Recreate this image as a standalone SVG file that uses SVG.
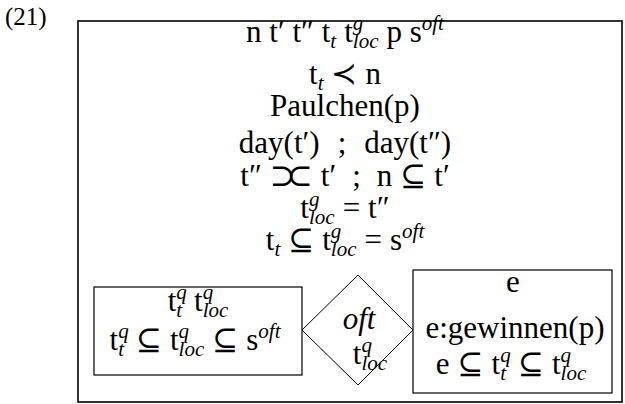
<svg xmlns="http://www.w3.org/2000/svg" width="625" height="404" viewBox="0 0 625 404">
<style>
text { font-family: "Liberation Serif", "DejaVu Serif", serif; fill: #000; }
.m { font-size: 31px; text-anchor: middle; }
.s { font-size: 21px; font-style: italic; }
.it { font-style: italic; }
.box { fill: #fff; stroke: #000; }
</style>
<rect width="625" height="404" fill="#fff"/>
<text id="label" x="5" y="25" style="font-size:25px">(21)</text>
<g id="outer">
  <rect class="box" x="78" y="21" width="544" height="381" stroke-width="1.6"/>
  <text class="m" x="345" y="42">n t′ t″ t<tspan class="s" dy="6">t</tspan><tspan dy="-6" dx="8">t</tspan><tspan class="s" dy="-12">g</tspan><tspan class="s" dx="-10.5" dy="18">loc</tspan><tspan dy="-6" dx="8">p s</tspan><tspan class="s" dy="-12">oft</tspan></text>
  <text class="m" x="345" y="84">t<tspan class="s" dy="6">t</tspan><tspan dy="-6" dx="8">≺</tspan><tspan dx="8">n</tspan></text>
  <text class="m" x="345" y="116">Paulchen(p)</text>
  <text class="m" x="345" y="153">day(t′)<tspan dx="18">;</tspan><tspan dx="18">day(t″)</tspan></text>
  <text class="m" x="345" y="186">t″<tspan dx="8">⊃</tspan><tspan dx="-9">⊂</tspan><tspan dx="8">t′</tspan><tspan dx="16">;</tspan><tspan dx="16">n</tspan><tspan dx="8">⊆</tspan><tspan dx="8">t′</tspan></text>
  <text class="m" x="345" y="218">t<tspan class="s" dy="-12">g</tspan><tspan class="s" dx="-10.5" dy="18">loc</tspan><tspan dy="-6" dx="8">=</tspan><tspan dx="8">t″</tspan></text>
  <text class="m" x="345" y="250">t<tspan class="s" dy="6">t</tspan><tspan dy="-6" dx="8">⊆</tspan><tspan dx="8">t</tspan><tspan class="s" dy="-12">g</tspan><tspan class="s" dx="-10.5" dy="18">loc</tspan><tspan dy="-6" dx="8">=</tspan><tspan dx="8">s</tspan><tspan class="s" dy="-12">oft</tspan></text>
</g>
<g id="left-box">
  <rect class="box" x="94" y="287" width="208" height="88" stroke-width="1.2"/>
  <text class="m" x="198" y="311">t<tspan class="s" dy="-12">q</tspan><tspan class="s" dx="-10.5" dy="18">t</tspan><tspan dy="-6" dx="12">t</tspan><tspan class="s" dy="-12">q</tspan><tspan class="s" dx="-10.5" dy="18">loc</tspan></text>
  <text class="m" x="195" y="350">t<tspan class="s" dy="-12">q</tspan><tspan class="s" dx="-10.5" dy="18">t</tspan><tspan dy="-6" dx="12">⊆</tspan><tspan dx="8">t</tspan><tspan class="s" dy="-12">q</tspan><tspan class="s" dx="-10.5" dy="18">loc</tspan><tspan dy="-6" dx="8">⊆</tspan><tspan dx="8">s</tspan><tspan class="s" dy="-12">oft</tspan></text>
</g>
<g id="diamond">
  <polygon class="box" points="358,275 413,330 358,385 302,330" stroke-width="1"/>
  <text class="m it" x="359" y="329">oft</text>
  <text class="m" x="370" y="364">t<tspan class="s" dy="-12">q</tspan><tspan class="s" dx="-10.5" dy="18">loc</tspan></text>
</g>
<g id="right-box">
  <rect class="box" x="413" y="270" width="199" height="123" stroke-width="1.2"/>
  <text class="m" x="513" y="292">e</text>
  <text class="m" x="515" y="338">e:gewinnen(p)</text>
  <text class="m" x="511" y="374">e<tspan dx="8">⊆</tspan><tspan dx="8">t</tspan><tspan class="s" dy="-12">q</tspan><tspan class="s" dx="-10.5" dy="18">t</tspan><tspan dy="-6" dx="12">⊆</tspan><tspan dx="8">t</tspan><tspan class="s" dy="-12">q</tspan><tspan class="s" dx="-10.5" dy="18">loc</tspan></text>
</g>
<g id="connectors"></g>
</svg>
